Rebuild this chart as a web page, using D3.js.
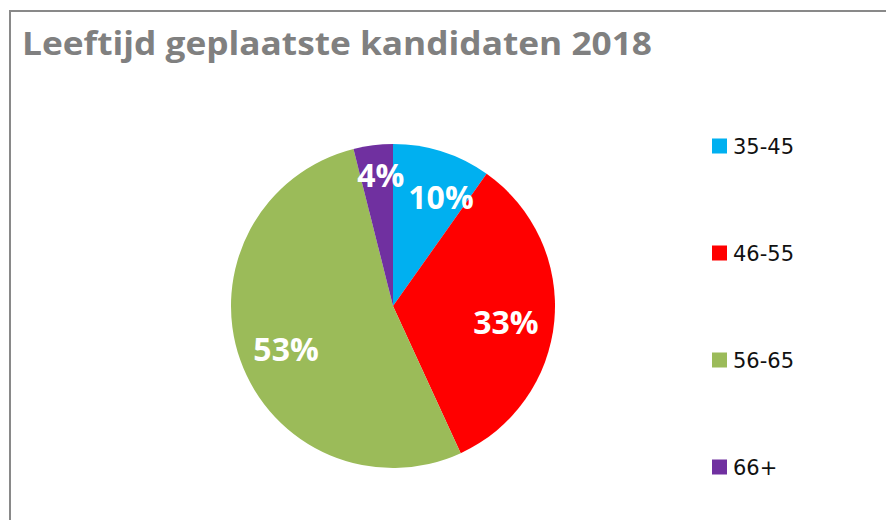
<!DOCTYPE html>
<html>
<head>
<meta charset="utf-8">
<script src="https://cdn.jsdelivr.net/npm/d3@7"></script>
<style>
  body { margin: 0; background: #fff; }
  svg { display: block; }
</style>
</head>
<body>
<svg id="chart" width="886" height="520"></svg>
<script>
// data
var categories = ['35-45', '46-55', '56-65', '66+'];
var counts = [5, 17, 27, 2];
var colors = ['#00b0f0', '#ff0000', '#9bbb59', '#7030a0'];
var titleText = 'Leeftijd geplaatste kandidaten 2018';

var svg = d3.select('#chart');
var width = 886, height = 520;

// outer frame (runs off the right and bottom edge)
svg.append('rect')
	.attr('x', 10)
	.attr('y', 11)
	.attr('width', width + 20)
	.attr('height', height + 20)
	.attr('fill', 'white')
	.attr('stroke', '#898989')
	.attr('stroke-width', 2);

// title, squeezed to the width it takes in the original
var title = svg.append('text')
	.attr('x', 22)
	.attr('y', 55)
	.attr('font-family', '"Open Sans", sans-serif')
	.attr('font-weight', 'bold')
	.attr('font-size', 33)
	.attr('fill', '#808080')
	.text(titleText);
var tw = title.node().getComputedTextLength();
if (Math.abs(tw - 630) > 4) {
	title.attr('textLength', 630).attr('lengthAdjust', 'spacingAndGlyphs');
}

// pie
var cx = 393, cy = 306, radius = 162;
var total = d3.sum(counts);
var data = categories.map((c, i) => ({cat: c, val: counts[i], color: colors[i]}));

var pie = d3.pie()
	.value(d => d.val)
	.sort(null);

var arc = d3.arc()
	.innerRadius(0)
	.outerRadius(radius);

var arcs = pie(data);

var g = svg.append('g')
	.attr('transform', 'translate(' + cx + ',' + cy + ')');

g.selectAll('path.slice')
	.data(arcs)
	.enter()
	.append('path')
	.attr('class', 'slice')
	.attr('d', arc)
	.attr('fill', d => d.data.color);

// label placement: big slices at 70% radius, the two small top slices
// are pushed outwards and apart so they don't collide (like excel does)
var labelPos = function(d, i) {
	var frac = d.data.val / total;
	var mid = (d.startAngle + d.endAngle) / 2;
	var r = radius * 0.70, shift = 0, dy = 6;
	if (frac < 0.05) { r = radius * 0.81; shift = 0.03; dy = 0; }
	else if (frac < 0.15) { r = radius * 0.73; shift = 0.11; dy = 0; }
	var a = mid + shift;
	return [Math.sin(a) * r, -Math.cos(a) * r + dy];
};

g.selectAll('text.pct')
	.data(arcs)
	.enter()
	.append('text')
	.attr('class', 'pct')
	.attr('transform', function(d, i) {
		var p = labelPos(d, i);
		return 'translate(' + p[0] + ',' + p[1] + ')';
	})
	.attr('text-anchor', 'middle')
	.attr('dy', '0.36em')
	.attr('font-family', '"Open Sans", sans-serif')
	.attr('font-weight', 'bold')
	.attr('font-size', 32)
	.attr('fill', 'white')
	.text(d => Math.round(d.data.val / total * 100) + '%');

// legend
var legendY = d3.scalePoint()
	.domain(categories)
	.range([146, 467]);

var leg = svg.selectAll('g.leg')
	.data(data)
	.enter()
	.append('g')
	.attr('class', 'leg')
	.attr('transform', d => 'translate(712,' + legendY(d.cat) + ')');

leg.append('rect')
	.attr('x', 0)
	.attr('y', -7.5)
	.attr('width', 15)
	.attr('height', 15)
	.attr('fill', d => d.color);

leg.append('text')
	.attr('x', 21)
	.attr('dy', '0.36em')
	.attr('font-family', '"DejaVu Sans", sans-serif')
	.attr('font-size', 21)
	.attr('fill', '#111')
	.text(d => d.cat);
</script>
</body>
</html>
